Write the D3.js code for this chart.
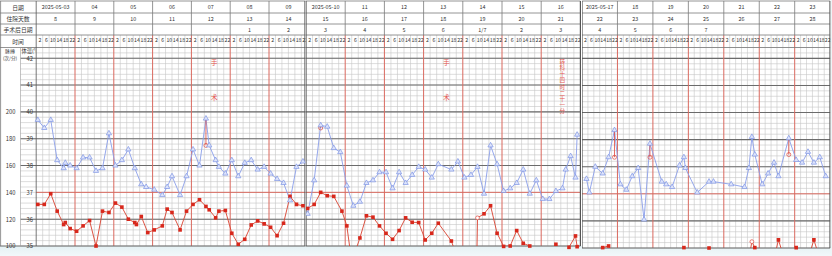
<!DOCTYPE html>
<html>
<head>
<meta charset="utf-8">
<script src="https://cdn.jsdelivr.net/npm/d3@7"></script>
<style>
body { margin: 0; background: #fff; }
svg text { font-family: "Noto Sans CJK SC", "Noto Sans", sans-serif; fill: #333; }
</style>
</head>
<body>
<svg id="chart" width="832" height="256"></svg>
<script>
(function() {

// ---- data ----
var dates = ['2025-05-03','04','05','06','07','08','09',
             '2025-05-10','11','12','13','14','15','16',
             '2025-05-17','18','19','20','21','22','23'];
var hospitalDays = [8,9,10,11,12,13,14,15,16,17,18,19,20,21,22,23,24,25,26,27,28];
var postOpDays = ['','','','','','1','2','3','4','5','6','1/7','2','3','4','5','6','7','','',''];
var timeLabels = [2, 6, 10, 14, 18, 22];
var rowLabels = ['日期', '住院天数', '手术后日期', '时间'];
var tempTicks = [42, 41, 40, 39, 38, 37, 36, 35];
var pulseTicks = [200, 180, 160, 140, 120, 100];

// hours counted from 2025-05-03 00:00
var tempHours = [1,5,9,13,17,18,21,25,29,33,37,41,45,49,53,57,61,65,68,73,78,81,84,89,93,97,101,105,107,111,113,117,121,125,129,133,137,141,145,149,153,157,161,165,
  169,173,177,181,185,189,193,197,201,205,209,213,217,221,225,229,233,237,241,245,249,257,261,265,269,273,277,281,285,289,293,297,301,305,309,313,317,321,325,327,330,333,334,
  339,341,345,350,354,358,362,366,370,374,378,382,390,393,397,402,405,406,414,422,425,437,446,449,451,453,458,462,466,469,476,481,485,489,493,497,501];
var tempValues = [39.7,39.4,39.7,38.2,37.9,38.1,38.0,37.9,38.3,38.3,37.8,37.9,39.2,38.0,38.2,38.6,37.9,37.3,37.2,37.1,36.9,37.2,37.6,36.9,37.6,38.6,38.0,39.75,38.75,38.2,37.95,37.7,38.2,37.6,38.1,38.2,37.85,37.95,37.7,37.5,37.35,36.7,37.95,38.15,
  36.2,37.45,39.5,39.45,38.65,38.5,37.25,36.5,36.65,37.35,37.45,37.75,37.75,37.15,37.75,37.35,37.65,37.95,37.85,37.55,38.05,37.85,38.15,37.55,37.65,37.95,36.95,38.75,38.05,37.05,37.15,37.35,37.85,36.95,37.45,36.75,36.75,37.05,37.15,37.85,38.35,37.55,39.15,
  37.55,37.05,38.0,37.75,38.35,39.35,37.35,37.15,37.65,37.95,36.05,38.85,37.45,37.35,37.25,38.05,38.35,37.95,37.05,37.45,37.45,37.35,37.25,37.95,39.1,38.45,37.35,37.75,38.15,37.65,39.05,38.25,38.15,38.55,38.15,38.35,37.65];

var pulseHours = [1,5,9,13,17,18,21,25,29,33,37,41,45,49,53,57,61,62,65,69,73,78,81,84,89,93,97,101,105,107,111,113,117,121,125,129,133,137,141,145,149,153,157,161,165,
  169,173,177,181,185,190,193,196,201,205,209,213,217,221,225,229,233,237,241,245,249,257,261,272.5,273,277,281,285,289,293,297,301,305,313,321,325,329,333,334,
  346,350,354,358,401,405,409,418,422,426,449,451,453,458,466,469,473,478,481,485,489,493,497];
var pulseValues = [131,131,139,126,116,117.5,113,111,115,119,100,126,125,132,129,120,117.5,116,122,110,112,115,127.5,125,112,126,131,134.5,129.5,127,121,126,126.5,109.5,101.3,105,115.7,118.7,116.5,114,107.7,117,137,131,130,
  128,131,140,137.5,137,126,115,88,106,122.5,121.5,115,109.5,105,111.5,121,117.7,117.5,104.5,109.5,117,103.7,90,85,121,124,130,109.5,99.7,100,111.5,102,100,90,101.3,92,99,107.5,99.5,
  90,100.3,101.5,92,90,100.3,92,90,100,90,92,104.7,100.3,92,92,106,92,92,100.3,92,92,106,92];
var pulseOpenHours = [273, 451];

// physical cooling: temperature re-measured after cooling
var coolHours = [105, 177, 358, 382, 476];
var coolValues = [38.75, 39.4, 38.35, 38.35, 38.45];

var noteHours = [110, 254, 325];
var noteTexts = ['手术', '手术', '转科十四时二十一分'];

// ---- layout ----
var panels = [
  {first: 0,  x0: 36.2, dayW: 38.8,  right: 305,   bottom: 246},
  {first: 7,  x0: 306,  dayW: 39.2,  right: 580.4, bottom: 246},
  {first: 14, x0: 582,  dayW: 35.45, right: 830,   bottom: 248}
];
var rowY = [1, 13, 24, 35, 47.5];
var top = rowY[4];

var tempSeries = tempHours.map(function(h, i) { return [h, tempValues[i]]; });
var pulseSeries = pulseHours.map(function(h, i) { return [h, pulseValues[i]]; });

var svg = d3.select('#chart');
var defs = svg.append('defs');

var grad = defs.append('linearGradient').attr('id', 'foot')
    .attr('x1', 0).attr('y1', 0).attr('x2', 0).attr('y2', 1);
grad.append('stop').attr('offset', '0%').attr('stop-color', '#e4f1f4');
grad.append('stop').attr('offset', '100%').attr('stop-color', '#f2f8fa');

svg.append('rect').attr('width', 832).attr('height', 256).attr('fill', '#fff');
svg.append('rect').attr('y', 246).attr('width', 832).attr('height', 10).attr('fill', 'url(#foot)');
svg.append('rect').attr('x', 830.5).attr('width', 1.5).attr('height', 256).attr('fill', '#eef5f7');

panels.forEach(function(p, i) {
    var xEnd = p.x0 + 7 * p.dayW;
    var left = i === 0 ? 0 : p.x0;
    var h0 = p.first * 24, h1 = h0 + 168;

    defs.append('clipPath').attr('id', 'clip' + i)
      .append('rect').attr('x', left).attr('y', 0)
        .attr('width', p.right - left + 0.6).attr('height', 256);
    defs.append('clipPath').attr('id', 'plot' + i)
      .append('rect').attr('x', p.x0).attr('y', top)
        .attr('width', p.right - p.x0).attr('height', p.bottom - top);

    var g = svg.append('g').attr('clip-path', 'url(#clip' + i + ')');

    var x = d3.scaleLinear().domain([h0, h1]).range([p.x0, xEnd]);
    var y = d3.scaleLinear().domain([35, 42.4]).range([p.bottom, top]);
    var yP = d3.scaleLinear().domain([100, 248]).range([p.bottom, top]);

    g.append('rect').attr('x', left).attr('y', rowY[0])
        .attr('width', xEnd - left).attr('height', p.bottom - rowY[0]).attr('fill', '#fff');

    // minor grid
    var minors = d3.range(38).map(function(k) { return 35 + k * 0.2; });
    g.selectAll('.hminor').data(minors).enter().append('line')
        .attr('x1', i === 0 ? 20.5 : p.x0).attr('x2', xEnd)
        .attr('y1', function(d) { return y(d); }).attr('y2', function(d) { return y(d); })
        .attr('stroke', '#c6c6c6').attr('stroke-width', 0.6);

    var slots = d3.range(h0, h1 + 1, 4).filter(function(h) { return h % 24; });
    g.selectAll('.vminor').data(slots).enter().append('line')
        .attr('x1', function(d) { return x(d); }).attr('x2', function(d) { return x(d); })
        .attr('y1', rowY[3]).attr('y2', p.bottom)
        .attr('stroke', '#c6c6c6').attr('stroke-width', 0.6);

    // degree lines
    g.selectAll('.hmajor').data([36, 38, 39, 40, 41, 42]).enter().append('line')
        .attr('x1', i === 0 ? 20.5 : p.x0).attr('x2', xEnd)
        .attr('y1', function(d) { return y(d); }).attr('y2', function(d) { return y(d); })
        .attr('stroke', '#6b6b6b').attr('stroke-width', 1.1);
    g.append('line')
        .attr('x1', p.x0).attr('x2', xEnd).attr('y1', y(37)).attr('y2', y(37))
        .attr('stroke', '#d9695f').attr('stroke-width', 1);

    // day boundaries
    var days = d3.range(h0, h1 + 1, 24);
    g.selectAll('.vday').data(days.slice(1, -1)).enter().append('line')
        .attr('x1', function(d) { return x(d); }).attr('x2', function(d) { return x(d); })
        .attr('y1', rowY[3]).attr('y2', p.bottom)
        .attr('stroke', '#d9695f').attr('stroke-width', 1);
    g.selectAll('.vhead').data(days.slice(1, -1)).enter().append('line')
        .attr('x1', function(d) { return x(d); }).attr('x2', function(d) { return x(d); })
        .attr('y1', rowY[0]).attr('y2', rowY[3])
        .attr('stroke', '#7a7a7a').attr('stroke-width', 0.8);

    // header rows
    g.selectAll('.hrow').data(rowY).enter().append('line')
        .attr('x1', left).attr('x2', xEnd)
        .attr('y1', function(d) { return d; }).attr('y2', function(d) { return d; })
        .attr('stroke', '#7a7a7a').attr('stroke-width', 0.8);
    g.append('line').attr('x1', left).attr('x2', xEnd)
        .attr('y1', p.bottom).attr('y2', p.bottom)
        .attr('stroke', '#6b6b6b').attr('stroke-width', 1.1);
    g.append('line').attr('x1', p.x0).attr('x2', p.x0)
        .attr('y1', rowY[0]).attr('y2', p.bottom)
        .attr('stroke', '#555').attr('stroke-width', i === 0 ? 0.8 : 1.2);
    g.append('line').attr('x1', p.right).attr('x2', p.right)
        .attr('y1', rowY[0]).attr('y2', p.bottom)
        .attr('stroke', '#555').attr('stroke-width', 1.2);

    var dayIdx = d3.range(p.first, p.first + 7);
    var dayMid = function(d) { return x(d * 24 + 12); };
    var rowMid = function(r) { return (rowY[r] + rowY[r + 1]) / 2 + 0.3; };
    [dates, hospitalDays, postOpDays].forEach(function(arr, r) {
        g.selectAll('.hd' + r).data(dayIdx).enter().append('text')
            .attr('x', dayMid).attr('y', rowMid(r))
            .attr('text-anchor', 'middle').attr('dominant-baseline', 'central')
            .style('font-size', '5.4px')
            .text(function(d) { return arr[d]; });
    });

    // time row
    var timeTicks = [];
    dayIdx.forEach(function(d) {
        timeLabels.forEach(function(t) { timeTicks.push(d * 24 + t); });
    });
    var timeAxis = g.append('g')
        .attr('transform', 'translate(0,' + rowY[3] + ')')
        .call(d3.axisBottom(x).tickValues(timeTicks).tickSize(0).tickPadding(3.4)
            .tickFormat(function(h) { return h % 24; }));
    timeAxis.select('.domain').remove();
    timeAxis.selectAll('text').style('font-size', '5.2px').attr('fill', '#333');

    // label column on the first sheet
    if (i === 0) {
        g.append('line').attr('x1', 0.6).attr('x2', 0.6).attr('y1', rowY[0]).attr('y2', p.bottom)
            .attr('stroke', '#7a7a7a').attr('stroke-width', 0.8);
        g.append('line').attr('x1', 20.5).attr('x2', 20.5).attr('y1', rowY[4]).attr('y2', p.bottom)
            .attr('stroke', '#9a9a9a').attr('stroke-width', 0.6);
        g.selectAll('.rl').data(rowLabels).enter().append('text')
            .attr('x', 18).attr('y', function(d, r) { return rowMid(r); })
            .attr('text-anchor', 'middle').attr('dominant-baseline', 'central')
            .style('font-size', '5.8px')
            .text(function(d) { return d; });
        g.append('text').attr('x', 10).attr('y', 52.6).attr('text-anchor', 'middle')
            .style('font-size', '5px').text('脉搏');
        g.append('text').attr('x', 10).attr('y', 60.2).attr('text-anchor', 'middle')
            .style('font-size', '4.6px').text('(次/分)');
        defs.append('clipPath').attr('id', 'tcol')
          .append('rect').attr('x', 20.5).attr('y', 47).attr('width', 15.2).attr('height', 20);
        g.append('text').attr('x', 21.5).attr('y', 52.6).attr('clip-path', 'url(#tcol)')
            .style('font-size', '5.2px').text('体温(℃)');

        var tAxis = g.append('g').attr('transform', 'translate(33,0)')
            .call(d3.axisLeft(y).tickValues(tempTicks).tickSize(0).tickPadding(0));
        tAxis.select('.domain').remove();
        tAxis.selectAll('text').style('font-size', '5.8px').attr('fill', '#333');
        var pAxis = g.append('g').attr('transform', 'translate(15.5,0)')
            .call(d3.axisLeft(yP).tickValues(pulseTicks).tickSize(0).tickPadding(0));
        pAxis.select('.domain').remove();
        pAxis.selectAll('text').style('font-size', '5.8px').attr('fill', '#333');
    }

    // notes in red, written top to bottom
    noteHours.forEach(function(h, k) {
        if (h < h0 || h >= h1) return;
        var txt = noteTexts[k];
        var size = txt.length > 2 ? 5.6 : 6.8;
        var step = txt.length > 2 ? 6.1 : 35.6;
        g.append('text')
            .attr('x', x(h)).attr('y', 62 - size / 2)
            .style('writing-mode', 'vertical-rl')
            .style('font-size', size + 'px')
            .style('letter-spacing', (step - size) + 'px')
            .style('fill', '#e4574f')
            .text(txt);
    });

    // series
    var inPanel = function(d) { return d[0] >= h0 && d[0] < h1; };
    var temps = tempSeries.filter(inPanel);
    var pulses = pulseSeries.filter(inPanel);
    var plot = g.append('g').attr('clip-path', 'url(#plot' + i + ')');

    plot.append('path').datum(pulses)
        .attr('fill', 'none').attr('stroke', '#d9412f').attr('stroke-width', 0.9)
        .attr('d', d3.line().x(function(d) { return x(d[0]); }).y(function(d) { return yP(d[1]); }));
    plot.append('path').datum(temps)
        .attr('fill', 'none').attr('stroke', '#8a9eea').attr('stroke-width', 0.9)
        .attr('d', d3.line().x(function(d) { return x(d[0]); }).y(function(d) { return y(d[1]); }));

    // cooling
    coolHours.forEach(function(h, k) {
        if (h < h0 || h >= h1) return;
        var tv = tempValues[tempHours.indexOf(h)];
        g.append('line').attr('x1', x(h)).attr('x2', x(h))
            .attr('y1', y(tv)).attr('y2', y(coolValues[k]))
            .attr('stroke', '#e0483e').attr('stroke-width', 0.8);
        g.append('circle').attr('cx', x(h)).attr('cy', y(coolValues[k])).attr('r', 2)
            .attr('fill', 'none').attr('stroke', '#e0483e').attr('stroke-width', 0.7);
    });

    var visible = pulses.filter(function(d) { return d[1] >= 99; });
    g.selectAll('.pm').data(visible.filter(function(d) { return pulseOpenHours.indexOf(d[0]) < 0; }))
      .enter().append('path')
        .attr('d', d3.symbol().type(d3.symbolSquare).size(13))
        .attr('transform', function(d) { return 'translate(' + x(d[0]) + ',' + yP(d[1]) + ')'; })
        .attr('fill', '#d8281c');
    g.selectAll('.po').data(visible.filter(function(d) { return pulseOpenHours.indexOf(d[0]) >= 0; }))
      .enter().append('circle')
        .attr('cx', function(d) { return x(d[0]); }).attr('cy', function(d) { return yP(d[1]); })
        .attr('r', 1.9).attr('fill', '#fff').attr('stroke', '#e0483e').attr('stroke-width', 0.7);

    g.selectAll('.tm').data(temps).enter().append('path')
        .attr('d', d3.symbol().type(d3.symbolTriangle).size(12))
        .attr('transform', function(d) { return 'translate(' + x(d[0]) + ',' + y(d[1]) + ')'; })
        .attr('fill', '#dfe5fb').attr('stroke', '#7d93e4').attr('stroke-width', 0.7);
});

})();
</script>
</body>
</html>
